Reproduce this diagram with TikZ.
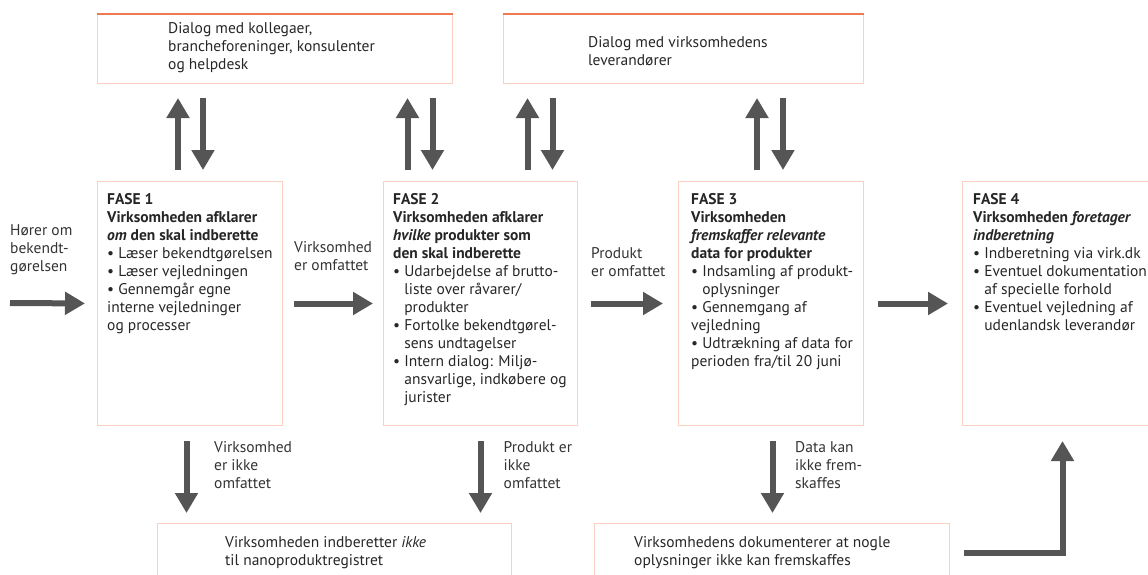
\documentclass[tikz,border=0pt]{standalone}
\usepackage{fontspec}
\setmainfont{PT Sans}
\usepackage{xcolor}
\usepackage{tikz}
\usetikzlibrary{arrows.meta,positioning,calc}
\definecolor{boxline}{HTML}{FBD0C2}
\definecolor{topline}{HTML}{F07A50}
\definecolor{arrowgray}{HTML}{555555}
\newcommand{\bodyfont}{\fontsize{15.5}{18}\selectfont}
\newcommand{\ind}{\hphantom{\textbullet\ }}
\newcommand{\bl}{\textbullet\ }

\begin{document}
\begin{tikzpicture}[x=1pt,y=1pt,
  fasebox/.style={draw=boxline,line width=1pt,minimum height=244pt,inner sep=0pt,anchor=north west},
  dialogbox/.style={draw=boxline,line width=1pt,minimum height=69pt,inner sep=0pt,anchor=north west},
  endbox/.style={draw=boxline,line width=1pt,minimum height=58pt,inner sep=0pt,anchor=north west},
  txt/.style={anchor=north west,align=left,inner sep=0pt,font=\bodyfont,text=black!85},
  lbl/.style={align=left,inner sep=0pt,font=\bodyfont,text=black!80},
  fat/.style={line width=6pt,draw=arrowgray,-{Triangle[length=20pt,width=22pt]}}
]
  \useasboundingbox (0,0) rectangle (1148,-574);

  \node[dialogbox,minimum width=355pt] (t1) at (97,-14) {};
  \node[dialogbox,minimum width=360pt] (t2) at (503,-14) {};
  \draw[topline,line width=1.2pt] (t1.north west) -- (t1.north east);
  \draw[topline,line width=1.2pt] (t2.north west) -- (t2.north east);
  \node[txt,anchor=west] (t1txt) at ([shift={(71pt,1pt)}]t1.west)
    {Dialog med kollegaer,\\brancheforeninger, konsulenter\\og helpdesk};
  \node[txt,anchor=west] (t2txt) at ([shift={(85pt,-2pt)}]t2.west)
    {Dialog med virksomhedens\\leverandører};

  \node[fasebox,minimum width=185pt] (f1) at (97,-181) {};
  \node[fasebox,minimum width=194pt] (f2) at (383,-181) {};
  \node[fasebox,minimum width=185pt] (f3) at (678,-181) {};
  \node[fasebox,minimum width=200pt] (f4) at (962,-181) {};

  \node[txt] (f1txt) at ([shift={(10pt,-12pt)}]f1.north west)
    {\textbf{FASE 1}\\
     \textbf{Virksomheden afklarer}\\
     \textbf{\textit{om} den skal indberette}\\
     \bl Læser bekendtgørelsen\\
     \bl Læser vejledningen\\
     \bl Gennemgår egne\\
     interne vejledninger\\
     og processer};
  \node[txt] (f2txt) at ([shift={(10pt,-12pt)}]f2.north west)
    {\textbf{FASE 2}\\
     \textbf{Virksomheden afklarer}\\
     \textbf{\textit{hvilke} produkter som}\\
     \textbf{den skal indberette}\\
     \bl Udarbejdelse af brutto-\\
     \ind liste over råvarer/\\
     \ind produkter\\
     \bl Fortolke bekendtgørel-\\
     \ind sens undtagelser\\
     \bl Intern dialog: Miljø-\\
     \ind ansvarlige, indkøbere og\\
     \ind jurister};
  \node[txt] (f3txt) at ([shift={(13pt,-12pt)}]f3.north west)
    {\textbf{FASE 3}\\
     \textbf{Virksomheden}\\
     \textbf{\textit{fremskaffer relevante}}\\
     \textbf{data for produkter}\\
     \bl Indsamling af produkt-\\
     \ind oplysninger\\
     \bl Gennemgang af\\
     vejledning\\
     \bl Udtrækning af data for\\
     perioden fra/til 20 juni};
  \node[txt] (f4txt) at ([shift={(11pt,-12pt)}]f4.north west)
    {\textbf{FASE 4}\\
     \textbf{Virksomheden \textit{foretager}}\\
     \textbf{\textit{indberetning}}\\
     \bl Indberetning via virk.dk\\
     \bl Eventuel dokumentation\\
     \ind af specielle forhold\\
     \bl Eventuel vejledning af\\
     \ind udenlandsk leverandør};

  \node[endbox,minimum width=354pt] (b1) at (157,-523) {};
  \node[endbox,minimum width=355pt] (b2) at (594,-523) {};
  \node[txt] (b1txt) at ([shift={(68pt,-13pt)}]b1.north west)
    {Virksomheden indberetter \textit{ikke}\\til nanoproduktregistret};
  \node[txt] (b2txt) at ([shift={(40pt,-13pt)}]b2.north west)
    {Virksomhedens dokumenterer at nogle\\oplysninger ikke kan fremskaffes};

  \coordinate (start) at (10,-303);
  \draw[fat,shorten >=12pt] (start) -- (f1.west);
  \draw[fat,shorten <=11pt,shorten >=10pt] (f1.east) -- (f2.west);
  \draw[fat,shorten <=13pt,shorten >=15pt] (f2.east) -- (f3.west);
  \draw[fat,shorten <=14pt,shorten >=14pt] (f3.east) -- (f4.west);

  \node[lbl,anchor=south west] (lhor) at ([yshift=28pt]start) {Hører om\\bekendt-\\gørelsen};
  \node[lbl,anchor=south west] (lvirk) at ([shift={(11pt,33pt)}]f1.east) {Virksomhed\\er omfattet};
  \node[lbl,anchor=south west] (lprod) at ([shift={(13pt,27pt)}]f2.east) {Produkt\\er omfattet};

  \coordinate (u1) at ([xshift=-12pt]f1.north);
  \coordinate (d1) at ([xshift=13pt]f1.north);
  \coordinate (u2) at ([xshift=-73pt]f2.north);
  \coordinate (d2) at ([xshift=-48pt]f2.north);
  \coordinate (u3) at ([xshift=47pt]f2.north);
  \coordinate (d3) at ([xshift=72pt]f2.north);
  \coordinate (u4) at ([xshift=-14pt]f3.north);
  \coordinate (d4) at ([xshift=12pt]f3.north);
  \draw[fat,shorten <=11pt,shorten >=14pt] (u1) -- (u1 |- t1.south);
  \draw[fat,shorten <=14pt,shorten >=11pt] (d1 |- t1.south) -- (d1);
  \draw[fat,shorten <=11pt,shorten >=14pt] (u2) -- (u2 |- t1.south);
  \draw[fat,shorten <=14pt,shorten >=11pt] (d2 |- t1.south) -- (d2);
  \draw[fat,shorten <=11pt,shorten >=14pt] (u3) -- (u3 |- t2.south);
  \draw[fat,shorten <=14pt,shorten >=11pt] (d3 |- t2.south) -- (d3);
  \draw[fat,shorten <=11pt,shorten >=14pt] (u4) -- (u4 |- t2.south);
  \draw[fat,shorten <=14pt,shorten >=11pt] (d4 |- t2.south) -- (d4);

  \coordinate (n1) at ([xshift=-3.5pt]f1.south);
  \coordinate (n2) at (f2.south);
  \coordinate (n3) at ([xshift=1.5pt]f3.south);
  \draw[fat,shorten <=15pt,shorten >=10pt] (n1) -- (n1 |- b1.north);
  \draw[fat,shorten <=15pt,shorten >=10pt] (n2) -- (n2 |- b1.north);
  \draw[fat,shorten <=15pt,shorten >=10pt] (n3) -- (n3 |- b2.north);
  \node[lbl,anchor=north west] (lnot1) at ([shift={(24pt,-15pt)}]f1.south) {Virksomhed\\er ikke\\omfattet};
  \node[lbl,anchor=north west] (lnot2) at ([shift={(23pt,-15pt)}]f2.south) {Produkt er\\ikke\\omfattet};
  \node[lbl,anchor=north west] (lnot3) at ([shift={(24pt,-15pt)}]f3.south) {Data kan\\ikke frem-\\skaffes};

  \draw[fat,shorten <=14pt,shorten >=15pt] (b2.east) -- (f4.south |- b2.east) -- (f4.south);
\end{tikzpicture}
\end{document}
